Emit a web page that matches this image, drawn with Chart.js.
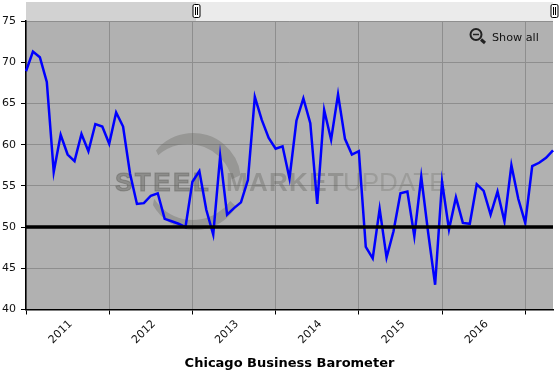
<!DOCTYPE html>
<html>
<head>
<meta charset="utf-8">
<title>Chicago Business Barometer</title>
<script src="https://cdn.jsdelivr.net/npm/chart.js@4"></script>
<style>
  html, body { margin: 0; padding: 0; background: #fff; }
  canvas { display: block; }
</style>
</head>
<body>
<canvas id="barometer" width="560" height="372"></canvas>
<script>
const months = [
  "Jul 2010", "Aug 2010", "Sep 2010", "Oct 2010", "Nov 2010", "Dec 2010",
  "Jan 2011", "Feb 2011", "Mar 2011", "Apr 2011", "May 2011", "Jun 2011",
  "Jul 2011", "Aug 2011", "Sep 2011", "Oct 2011", "Nov 2011", "Dec 2011",
  "Jan 2012", "Feb 2012", "Mar 2012", "Apr 2012", "May 2012", "Jun 2012",
  "Jul 2012", "Aug 2012", "Sep 2012", "Oct 2012", "Nov 2012", "Dec 2012",
  "Jan 2013", "Feb 2013", "Mar 2013", "Apr 2013", "May 2013", "Jun 2013",
  "Jul 2013", "Aug 2013", "Sep 2013", "Oct 2013", "Nov 2013", "Dec 2013",
  "Jan 2014", "Feb 2014", "Mar 2014", "Apr 2014", "May 2014", "Jun 2014",
  "Jul 2014", "Aug 2014", "Sep 2014", "Oct 2014", "Nov 2014", "Dec 2014",
  "Jan 2015", "Feb 2015", "Mar 2015", "Apr 2015", "May 2015", "Jun 2015",
  "Jul 2015", "Aug 2015", "Sep 2015", "Oct 2015", "Nov 2015", "Dec 2015",
  "Jan 2016", "Feb 2016", "Mar 2016", "Apr 2016", "May 2016", "Jun 2016",
  "Jul 2016", "Aug 2016", "Sep 2016", "Oct 2016", "Nov 2016",
];

const barometer = [
  68.9, 71.3, 70.6, 67.6, 56.7, 61.2, 58.8, 58.0, 61.3, 59.2, 62.5, 62.2,
  60.1, 63.9, 62.2, 56.5, 52.8, 52.9, 53.8, 54.1, 51.0, 50.7, 50.4, 50.0,
  55.5, 56.8, 52.1, 49.1, 58.6, 51.5, 52.3, 53.0, 55.7, 65.8, 63.0, 60.8,
  59.5, 59.8, 55.9, 62.9, 65.6, 62.6, 52.8, 64.2, 60.6, 66.1, 60.7, 58.8,
  59.2, 47.6, 46.2, 52.2, 46.3, 49.5, 54.1, 54.3, 48.9, 56.1, 49.3, 43.0,
  55.5, 49.7, 53.6, 50.5, 50.4, 55.2, 54.4, 51.5, 54.3, 50.7, 57.5, 53.4,
  50.5, 57.4, 57.8, 58.4, 59.3,
];

const referenceLevel = months.map(() => 50);

// grey plot, range slider, watermark: everything chart.js has no option for
const backdrop = {
  id: "backdrop",
  beforeDraw(chart) {
    const { ctx, chartArea: a } = chart;
    ctx.save();
    ctx.fillStyle = "#b1b1b1";
    ctx.fillRect(a.left, a.top, a.right - a.left, a.bottom - a.top);
    ctx.fillStyle = "#ebebeb";
    ctx.fillRect(a.left, 2, a.right - a.left, a.top - 2);
    ctx.fillStyle = "#d2d2d2";
    ctx.fillRect(a.left, 2, 196 - a.left, a.top - 2);
    ctx.restore();
  },
  beforeDatasetsDraw(chart) {
    const { ctx } = chart;
    ctx.save();
    // crescent
    ctx.fillStyle = "rgba(105,105,100,0.36)";
    ctx.beginPath();
    ctx.arc(193, 181, 48, Math.PI * 1.22, Math.PI * 1.96);
    ctx.arc(188, 189, 45, Math.PI * 1.93, Math.PI * 1.27, true);
    ctx.closePath();
    ctx.fill();
    ctx.beginPath();
    ctx.arc(195, 182, 48, Math.PI * 0.17, Math.PI * 0.84);
    ctx.arc(193, 174, 46, Math.PI * 0.82, Math.PI * 0.2, true);
    ctx.closePath();
    ctx.fill();
    ctx.textBaseline = "alphabetic";
    ctx.font = "bold 26px 'Liberation Sans'";
    ctx.letterSpacing = "2.5px";
    ctx.fillStyle = ctx.strokeStyle = "rgba(90,90,85,0.42)";
    ctx.lineWidth = 1;
    ctx.fillText("STEEL", 115, 191);
    ctx.strokeText("STEEL", 115, 191);
    ctx.letterSpacing = "1.3px";
    ctx.fillStyle = "rgba(90,90,85,0.34)";
    ctx.fillText("MARKET", 226, 191);
    ctx.letterSpacing = "0px";
    ctx.fillStyle = "rgba(90,90,85,0.24)";
    ctx.font = "26px 'Liberation Sans'";
    ctx.fillText("UPDATE", 343, 191);
    ctx.restore();
  },
  afterDraw(chart) {
    const { ctx } = chart;
    ctx.save();
    for (const x of [196.5, 554.5]) {
      ctx.fillStyle = "#fff";
      ctx.strokeStyle = "#000";
      ctx.lineWidth = 1;
      ctx.beginPath();
      ctx.roundRect(x - 3.5, 4.5, 7, 13, 1.5);
      ctx.fill();
      ctx.stroke();
      ctx.fillStyle = "#000";
      ctx.fillRect(Math.floor(x) - 1, 7, 1, 8);
      ctx.fillRect(Math.floor(x) + 1, 7, 1, 8);
    }
    // zoom-out icon and Show all
    ctx.strokeStyle = "#222";
    ctx.lineWidth = 2;
    ctx.beginPath();
    ctx.arc(476, 34.5, 5.5, 0, Math.PI * 2);
    ctx.stroke();
    ctx.lineWidth = 1.5;
    ctx.beginPath();
    ctx.moveTo(473, 34.5);
    ctx.lineTo(479, 34.5);
    ctx.stroke();
    ctx.lineWidth = 3;
    ctx.beginPath();
    ctx.moveTo(481, 39.5);
    ctx.lineTo(485, 43);
    ctx.stroke();
    ctx.fillStyle = "#111";
    ctx.font = "11.2px 'DejaVu Sans'";
    ctx.textBaseline = "alphabetic";
    ctx.fillText("Show all", 492, 41);
    ctx.restore();
  },
};

const ctx = document.getElementById("barometer").getContext("2d");

new Chart(ctx, {
  type: "line",
  data: {
    labels: months,
    datasets: [
      {
        label: "50 level",
        data: referenceLevel,
        borderColor: "#000",
        borderWidth: 3.5,
        pointRadius: 0,
        order: 1,
      },
      {
        label: "Chicago Business Barometer",
        data: barometer,
        borderColor: "#0000ff",
        borderWidth: 2.5,
        pointRadius: 0,
        tension: 0,
        order: 2,
      },
    ],
  },
  options: {
    responsive: false,
    animation: false,
    layout: { padding: { top: 21, right: 7, left: 0, bottom: 0 } },
    plugins: { legend: { display: false }, tooltip: { enabled: false } },
    scales: {
      y: {
        min: 40,
        max: 75,
        ticks: {
          stepSize: 5,
          padding: 5,
          color: "#111",
          font: { family: "DejaVu Sans", size: 11 },
        },
        grid: { color: "#8e8e8e", tickColor: "#000", tickLength: 5 },
        border: { color: "#000", width: 1.5 },
        afterFit: (scale) => { scale.width = 26; },
      },
      // yearly gridlines fall on July
      x: {
        afterBuildTicks: (scale) => {
          scale.ticks = scale.ticks.filter((t) => months[t.value].startsWith("Jul"));
        },
        ticks: { autoSkip: false, display: false },
        grid: { color: "#8e8e8e", tickColor: "#000", tickLength: 5 },
        border: { color: "#000", width: 1.5 },
        afterFit: (scale) => { scale.height = 5; },
      },
      // year labels sit on January
      years: {
        position: "bottom",
        afterBuildTicks: (scale) => {
          scale.ticks = scale.ticks.filter((t) => months[t.value].startsWith("Jan"));
        },
        ticks: {
          autoSkip: false,
          minRotation: 45,
          maxRotation: 45,
          padding: 3,
          labelOffset: 3,
          color: "#111",
          font: { family: "DejaVu Sans", size: 11 },
          callback(value) {
            return months[value].slice(-4);
          },
        },
        grid: { display: false, drawTicks: false },
        border: { display: false },
        title: {
          display: true,
          text: "Chicago Business Barometer",
          color: "#000",
          font: { family: "DejaVu Sans", size: 13, weight: "bold" },
          padding: { top: 0, bottom: 1 },
        },
        afterFit: (scale) => { scale.height = 57.5; },
      },
    },
  },
  plugins: [backdrop],
});
</script>
</body>
</html>
